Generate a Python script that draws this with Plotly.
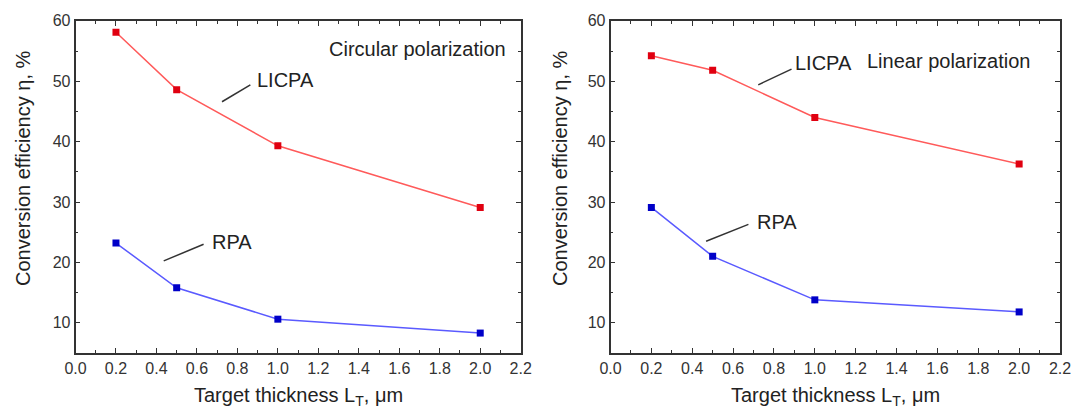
import plotly.graph_objects as go

thickness = [0.2, 0.5, 1.0, 2.0]
circ_licpa = [58.1, 48.6, 39.3, 29.1]
circ_rpa = [23.2, 15.8, 10.6, 8.3]
lin_licpa = [54.2, 51.8, 44.0, 36.3]
lin_rpa = [29.1, 21.0, 13.8, 11.8]

x_ticks = [0.0, 0.2, 0.4, 0.6, 0.8, 1.0, 1.2, 1.4, 1.6, 1.8, 2.0, 2.2]
y_ticks = [10, 20, 30, 40, 50, 60]

FONT = "Liberation Sans, Arial, sans-serif"
RED_LINE, RED_MK = "#ff5a5a", "#e00010"
BLUE_LINE, BLUE_MK = "#5a5aff", "#0000c8"

fig = go.Figure()
for xa, ya, lic, rpa in [("x", "y", circ_licpa, circ_rpa), ("x2", "y2", lin_licpa, lin_rpa)]:
    fig.add_trace(go.Scatter(x=thickness, y=lic, xaxis=xa, yaxis=ya, mode="lines+markers",
                             line=dict(color=RED_LINE, width=1.5),
                             marker=dict(symbol="square", size=7, color=RED_MK), showlegend=False))
    fig.add_trace(go.Scatter(x=thickness, y=rpa, xaxis=xa, yaxis=ya, mode="lines+markers",
                             line=dict(color=BLUE_LINE, width=1.5),
                             marker=dict(symbol="square", size=7, color=BLUE_MK), showlegend=False))

xcommon = dict(range=[0, 2.2], tickvals=x_ticks, ticktext=[f"{v:.1f}" for v in x_ticks],
               ticks="inside", ticklen=5, tickwidth=1.2, tickcolor="#333",
               minor=dict(dtick=0.1, ticks="inside", ticklen=3, tickcolor="#333", tickwidth=1),
               showline=True, linecolor="#333", linewidth=1.6, mirror="ticks",
               showgrid=False, zeroline=False, automargin=False, ticklabeloverflow="allow",
               tickfont=dict(family=FONT, size=16, color="#333"))
ycommon = dict(range=[5, 60], tickvals=y_ticks,
               ticks="inside", ticklen=5, tickwidth=1.2, tickcolor="#333",
               minor=dict(dtick=5, ticks="inside", ticklen=3, tickcolor="#333", tickwidth=1),
               showline=True, linecolor="#333", linewidth=1.6, mirror="ticks",
               showgrid=False, zeroline=False, automargin=False,
               tickfont=dict(family=FONT, size=16, color="#333"))

ydom = [1 - 353 / 408, 1 - 20.8 / 408]
fig.update_layout(
    width=1072, height=408, margin=dict(l=0, r=0, t=0, b=0, autoexpand=False),
    paper_bgcolor="white", plot_bgcolor="white",
    font=dict(family=FONT, color="#222"),
    xaxis=dict(domain=[75.5 / 1072, 520.7 / 1072], anchor="y", **xcommon),
    yaxis=dict(domain=ydom, anchor="x", **ycommon),
    xaxis2=dict(domain=[610.5 / 1072, 1060 / 1072], anchor="y2", **xcommon),
    yaxis2=dict(domain=ydom, anchor="x2", **ycommon),
)

ann = []
TF = dict(family=FONT, size=20, color="#222")
# axis titles
for cx in [298 / 1072, 835.5 / 1072]:
    ann.append(dict(text="Target thickness L<sub>T</sub>, μm", xref="paper", yref="paper",
                    x=cx, y=1 - 396 / 408, xanchor="center", yanchor="middle", showarrow=False, font=TF))
for cx in [23 / 1072, 560 / 1072]:
    ann.append(dict(text="Conversion efficiency η, %", xref="paper", yref="paper",
                    x=cx, y=1 - 168 / 408, xanchor="center", yanchor="middle",
                    textangle=-90, showarrow=False, font=TF))
# panel labels
ann.append(dict(text="Circular polarization", xref="x", yref="y", x=2.137, y=55.3,
                xanchor="right", yanchor="middle", showarrow=False, font=TF))
ann.append(dict(text="Linear polarization", xref="x2", yref="y2", x=2.063, y=53.4,
                xanchor="right", yanchor="middle", showarrow=False, font=TF))
# series labels
ann.append(dict(text="LICPA", xref="x", yref="y", x=0.888, y=50.2, xanchor="left",
                yanchor="middle", showarrow=False, font=TF))
ann.append(dict(text="RPA", xref="x", yref="y", x=0.666, y=23.4, xanchor="left",
                yanchor="middle", showarrow=False, font=TF))
ann.append(dict(text="LICPA", xref="x2", yref="y2", x=0.893, y=53.0, xanchor="left",
                yanchor="middle", showarrow=False, font=TF))
ann.append(dict(text="RPA", xref="x2", yref="y2", x=0.707, y=26.65, xanchor="left",
                yanchor="middle", showarrow=False, font=TF))
fig.update_layout(annotations=ann)

# leader lines
shapes = [
    dict(type="line", xref="x", yref="y", x0=0.724, y0=46.6, x1=0.864, y1=49.4),
    dict(type="line", xref="x", yref="y", x0=0.436, y0=20.25, x1=0.633, y1=23.0),
    dict(type="line", xref="x2", yref="y2", x0=0.723, y0=49.4, x1=0.886, y1=52.0),
    dict(type="line", xref="x2", yref="y2", x0=0.468, y0=23.5, x1=0.675, y1=26.3),
]
for s in shapes:
    s["line"] = dict(color="#333", width=1.5)
fig.update_layout(shapes=shapes)

fig.write_html("out.html")
